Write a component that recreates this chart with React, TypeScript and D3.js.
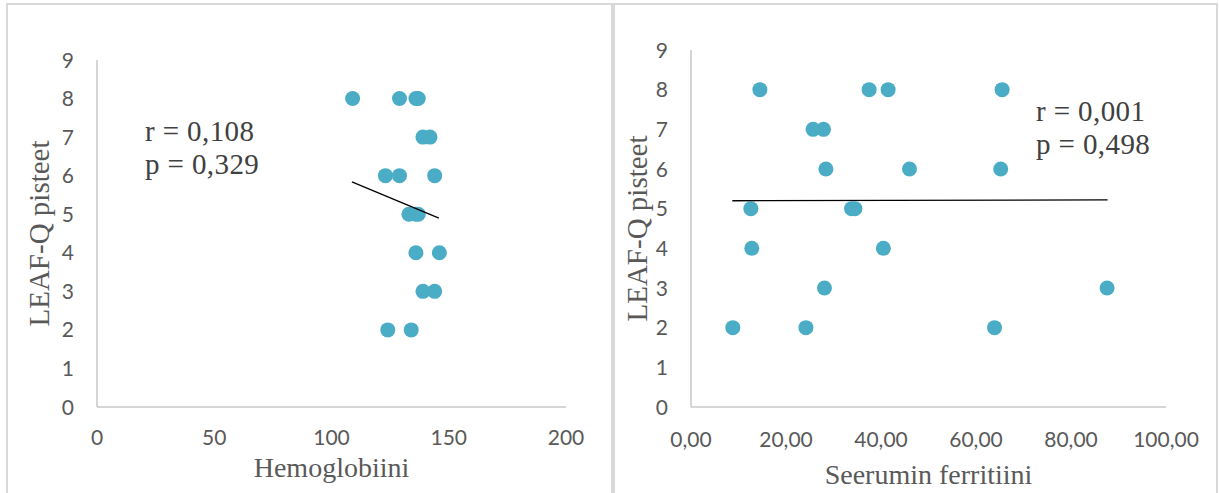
import React from 'react';
import * as d3 from 'd3';

// Left panel: hemoglobin vs LEAF-Q score
const hbValues = [109, 129, 136, 137, 139, 142, 123, 129, 144, 133, 136, 137, 136, 146, 139, 144, 124, 134];
const hbScores = [8, 8, 8, 8, 7, 7, 6, 6, 6, 5, 5, 5, 4, 4, 3, 3, 2, 2];
const hbTrendX = [108.7, 145.8];
const hbTrendY = [5.84, 4.9];
const hbTicks = [0, 50, 100, 150, 200];

// Right panel: serum ferritin vs LEAF-Q score
const ferValues = [14.5, 37.5, 41.5, 65.5, 25.7, 27.9, 28.4, 46.0, 65.2, 12.6, 33.8, 34.5, 12.8, 40.5, 28.1, 87.6, 8.8, 24.2, 63.9];
const ferScores = [8, 8, 8, 8, 7, 7, 6, 6, 6, 5, 5, 5, 4, 4, 3, 3, 2, 2, 2];
const ferTrendX = [8.7, 87.7];
const ferTrendY = [5.2, 5.22];
const ferTicks = [0, 20, 40, 60, 80, 100];

const scoreTicks = [0, 1, 2, 3, 4, 5, 6, 7, 8, 9];

const W = 1219;
const H = 493;
const dotColor = '#4bacc6';
const axisColor = '#c8c8c8';
const textColor = '#595959';
const sans = 'Lato, "Open Sans", sans-serif';
const serif = '"Liberation Serif", "Times New Roman", serif';

type PanelProps = {
  xs: number[];
  ys: number[];
  trendX: number[];
  trendY: number[];
  xTicks: number[];
  xMax: number;
  xFmt: (v: number) => string;
  xRange: [number, number];
  yRange: [number, number];
  xTitle: string;
  xTitleY: number;
  yTitleX: number;
  stats: string[];
  statsX: number;
  statsY: number;
  tickDy: number;
};

const Panel = (p: PanelProps) => {
  const x = d3.scaleLinear().domain([0, p.xMax]).range(p.xRange);
  const y = d3.scaleLinear().domain([0, 9]).range(p.yRange);
  const trend = d3
    .line<number>()
    .x(d => x(p.trendX[d]))
    .y(d => y(p.trendY[d]));
  const x0 = p.xRange[0];
  const y0 = p.yRange[0];
  const midX = (p.xRange[0] + p.xRange[1]) / 2;
  const midY = (p.yRange[0] + p.yRange[1]) / 2;

  return (
    <g>
      {/* axes */}
      <line x1={x0} x2={x0} y1={p.yRange[1]} y2={y0} stroke={axisColor} strokeWidth={1.5} />
      <line x1={x0} x2={p.xRange[1]} y1={y0} y2={y0} stroke={axisColor} strokeWidth={1.5} />

      {scoreTicks.map(t => (
        <text key={'y' + t} x={x0 - 23} y={y(t)} dy="0.36em" textAnchor="end"
          fontFamily={sans} fontSize={21} fill={textColor}>
          {t}
        </text>
      ))}
      {p.xTicks.map(t => (
        <text key={'x' + t} x={x(t)} y={y0 + p.tickDy} textAnchor="middle"
          fontFamily={sans} fontSize={21} fill={textColor}>
          {p.xFmt(t)}
        </text>
      ))}

      {/* points */}
      {p.xs.map((v, i) => (
        <circle key={i} cx={x(v)} cy={y(p.ys[i])} r={7.5} fill={dotColor} />
      ))}

      {/* trend line */}
      <path d={trend([0, 1]) || ''} fill="none" stroke="#000" strokeWidth={1.3} />

      {/* titles */}
      <text x={midX} y={p.xTitleY} textAnchor="middle" fontFamily={serif} fontSize={28} fill={textColor}>
        {p.xTitle}
      </text>
      <text transform={`translate(${p.yTitleX},${midY}) rotate(-90)`} textAnchor="middle"
        fontFamily={serif} fontSize={29} fill={textColor}>
        LEAF-Q pisteet
      </text>

      {p.stats.map((s, i) => (
        <text key={s} x={p.statsX} y={p.statsY + i * 33} fontFamily={serif} fontSize={29}
          letterSpacing={0.4} fill="#404040">
          {s}
        </text>
      ))}
    </g>
  );
};

export default function App() {
  const fmtComma = (v: number) => d3.format('.2f')(v).replace('.', ',');
  return (
    <svg width={W} height={H} style={{ position: 'absolute', left: 0, top: 0, background: '#fff' }}>
      <rect x={0} y={0} width={W} height={H} fill="#fff" />
      {/* panel frames */}
      <rect x={7} y={4} width={605} height={H + 10} fill="none" stroke="#d9d9d9" strokeWidth={2} />
      <rect x={614} y={4} width={603} height={H + 10} fill="none" stroke="#d9d9d9" strokeWidth={2} />

      <Panel
        xs={hbValues}
        ys={hbScores}
        trendX={hbTrendX}
        trendY={hbTrendY}
        xTicks={hbTicks}
        xMax={200}
        xFmt={v => String(v)}
        xRange={[97, 566]}
        yRange={[407, 60]}
        xTitle="Hemoglobiini"
        xTitleY={477}
        yTitleX={49}
        stats={['r = 0,108', 'p = 0,329']}
        statsX={145}
        statsY={141}
        tickDy={38}
      />
      <Panel
        xs={ferValues}
        ys={ferScores}
        trendX={ferTrendX}
        trendY={ferTrendY}
        xTicks={ferTicks}
        xMax={100}
        xFmt={fmtComma}
        xRange={[691, 1166]}
        yRange={[407, 50]}
        xTitle="Seerumin ferritiini"
        xTitleY={484}
        yTitleX={647}
        stats={['r = 0,001', 'p = 0,498']}
        statsX={1036}
        statsY={121}
        tickDy={40}
      />
    </svg>
  );
}
